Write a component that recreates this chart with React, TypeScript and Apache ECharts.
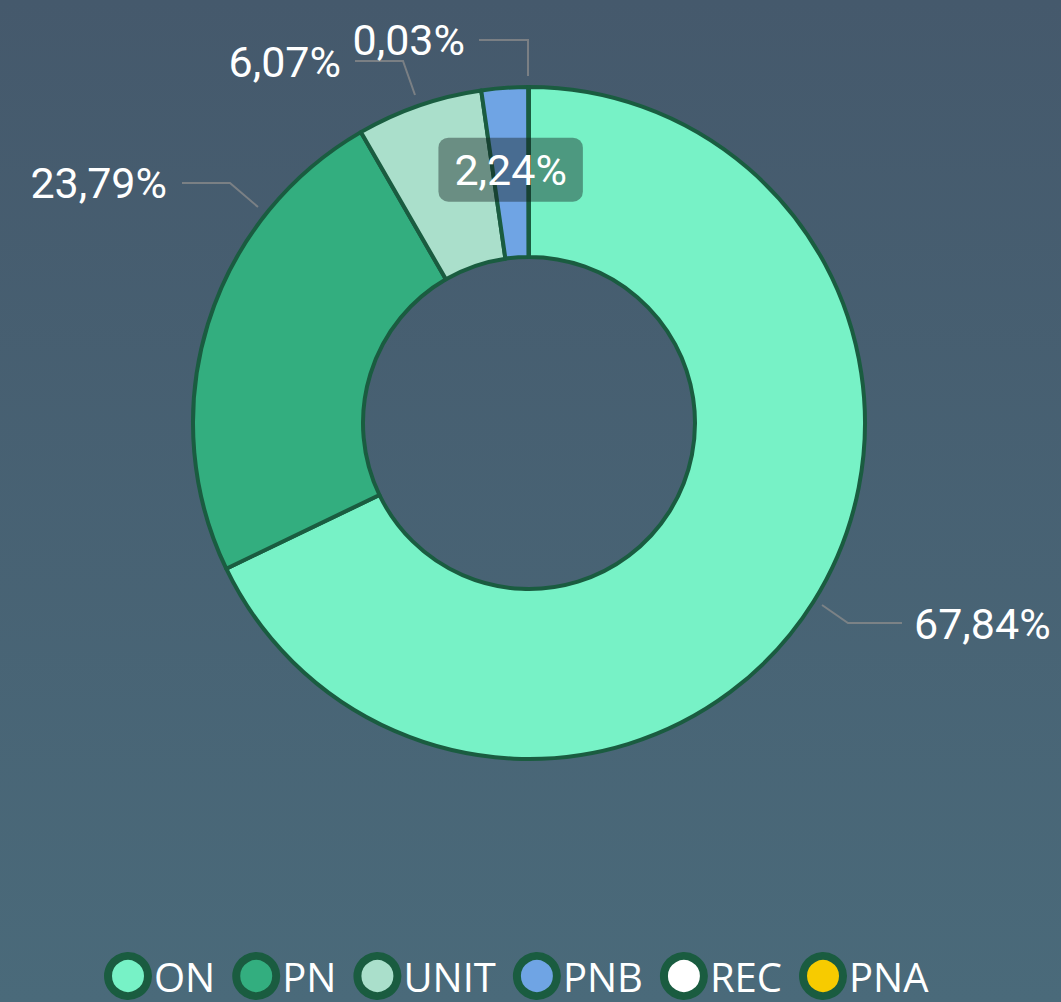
import React, { useEffect, useRef } from "react";
import * as echarts from "echarts";

const categories = ["ON", "PN", "UNIT", "PNB", "REC", "PNA"];
const values = [67.84, 23.79, 6.07, 2.24, 0.03, 0];
const colors = ["#77f2c6", "#33ae7f", "#aadfcb", "#6fa4e4", "#ffffff", "#f7cb00"];

// label placement (layout only): anchor x, y, align, leader line points
const labelSpots: Record<string, any> = {
  ON: { x: 914, y: 624, align: "left", pts: [[822, 605], [848, 623], [902, 623]] },
  PN: { x: 167, y: 183, align: "right", pts: [[258, 207], [230, 183], [182, 183]] },
  UNIT: { x: 341, y: 62, align: "right", pts: [[415, 95], [403, 61], [355, 61]] },
  REC: { x: 465, y: 40, align: "right", pts: [[528, 76], [528, 40], [479, 40]] },
};

export default function App() {
  const ref = useRef<HTMLDivElement>(null);
  useEffect(() => {
    document.body.style.margin = "0";
    const chart = echarts.init(ref.current!, null, { renderer: "svg" });
    const data = categories.map((name, i) => {
      const item: any = { name, value: values[i], itemStyle: { color: colors[i] } };
      if (name === "PNB") {
        item.label = {
          position: "inside",
          backgroundColor: "rgba(20,30,30,0.42)",
          borderRadius: 10,
          padding: [4, 16, 17, 16],
        };
      }
      if (name === "PNA") {
        item.label = { show: false };
        item.labelLine = { show: false };
      }
      return item;
    });
    chart.setOption({
      animation: false,
      backgroundColor: {
        type: "linear",
        x: 0,
        y: 0,
        x2: 0,
        y2: 1,
        colorStops: [
          { offset: 0, color: "#45596c" },
          { offset: 1, color: "#4a6a7a" },
        ],
      },
      legend: {
        bottom: -3,
        left: 99,
        icon: "circle",
        itemWidth: 40,
        itemHeight: 40,
        itemGap: 17,
        itemStyle: { borderColor: "#1a5c40", borderWidth: 8 },
        textStyle: {
          color: "#ffffff",
          fontSize: 40,
          fontFamily: "Open Sans",
          padding: [0, 0, 0, 1],
        },
        data: categories,
      },
      series: [
        {
          type: "pie",
          center: [529, 423],
          radius: [166, 336],
          startAngle: 90,
          clockwise: true,
          avoidLabelOverlap: false,
          itemStyle: { borderColor: "#1a5c40", borderWidth: 4 },
          label: {
            show: true,
            color: "#ffffff",
            fontSize: 43,
            fontFamily: "Roboto",
            overflow: "none",
            formatter: (p: any) => p.value.toFixed(2).replace(".", ",") + "%",
          },
          labelLine: {
            show: true,
            length: 38,
            length2: 55,
            lineStyle: { color: "rgba(140,140,140,0.75)", width: 2 },
          },
          labelLayout: (p: any) => {
            const s = labelSpots[categories[p.dataIndex]];
            if (!s) return {};
            return {
              x: s.x,
              y: s.y,
              align: s.align,
              verticalAlign: "middle",
              labelLinePoints: s.pts,
            };
          },
          emphasis: { disabled: true },
          data,
        },
      ],
    });
    return () => chart.dispose();
  }, []);
  return (
    <div
      ref={ref}
      style={{ position: "absolute", left: 0, top: 0, width: 1061, height: 1002 }}
    />
  );
}
